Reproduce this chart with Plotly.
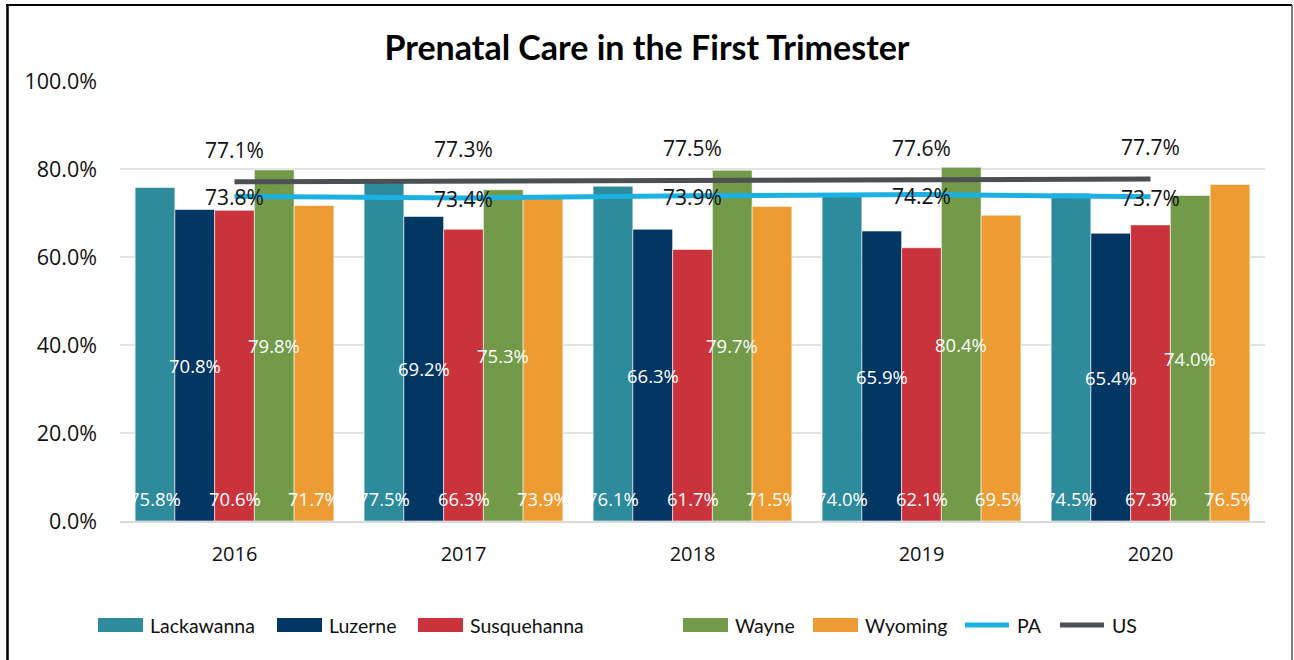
import plotly.graph_objects as go

# ---- data -------------------------------------------------------------
years = ["2016", "2017", "2018", "2019", "2020"]

lackawanna = [75.8, 77.5, 76.1, 74.0, 74.5]
luzerne = [70.8, 69.2, 66.3, 65.9, 65.4]
susquehanna = [70.6, 66.3, 61.7, 62.1, 67.3]
wayne = [79.8, 75.3, 79.7, 80.4, 74.0]
wyoming = [71.7, 73.9, 71.5, 69.5, 76.5]
pa = [73.8, 73.4, 73.9, 74.2, 73.7]
us = [77.1, 77.3, 77.5, 77.6, 77.7]

y_ticks = [0, 20, 40, 60, 80, 100]

# ---- layout geometry ----------------------------------------------------
W, H = 1294, 660
ML, MR, MT, MB = 120, 29, 81, 139
PW, PH = W - ML - MR, H - MT - MB
BARGAP = 0.132


def px_x(px):
    return (px - ML) / PW


def px_y(py):
    return (H - MB - py) / PH


LABEL_FONT = "Open Sans"
TEXT_FONT = "Lato"

county_series = [
    ("Lackawanna", lackawanna, "#2E8B9B", "base"),
    ("Luzerne", luzerne, "#033763", "middle"),
    ("Susquehanna", susquehanna, "#CB333C", "base"),
    ("Wayne", wayne, "#729A48", "middle"),
    ("Wyoming", wyoming, "#ED9B33", "base"),
]

fig = go.Figure()

for name, vals, color, _ in county_series:
    fig.add_trace(go.Bar(
        x=years, y=vals, name=name,
        marker=dict(color=color, line=dict(color="rgba(255,255,255,0.7)", width=0.8)),
        hoverinfo="x+y+name",
    ))

fig.add_trace(go.Scatter(x=years, y=pa, name="PA", mode="lines",
                         line=dict(color="#1BB2E3", width=5)))
fig.add_trace(go.Scatter(x=years, y=us, name="US", mode="lines",
                         line=dict(color="#4C5055", width=5)))

annotations = []

# bar value labels (white): either at the bar base or the bar middle
n = len(county_series)
bw = (1 - BARGAP) / n
for k, (name, vals, color, where) in enumerate(county_series):
    for i, v in enumerate(vals):
        xc = i - (1 - BARGAP) / 2 + (k + 0.5) * bw
        if where == "base":
            annotations.append(dict(x=xc, y=0, xref="x", yref="y", text=f"{v:.1f}%",
                                    showarrow=False, yshift=23, yanchor="middle",
                                    font=dict(family=LABEL_FONT, size=18.5, color="white")))
        else:
            annotations.append(dict(x=xc, y=v / 2, xref="x", yref="y", text=f"{v:.1f}%",
                                    showarrow=False, yanchor="middle",
                                    font=dict(family=LABEL_FONT, size=18.5, color="white")))

# line value labels (black)
for i, v in enumerate(us):
    annotations.append(dict(x=i, y=v, xref="x", yref="y", text=f"{v:.1f}%",
                            showarrow=False, yshift=32, yanchor="middle",
                            font=dict(family=LABEL_FONT, size=21, color="#111111")))
for i, v in enumerate(pa):
    annotations.append(dict(x=i, y=v, xref="x", yref="y", text=f"{v:.1f}%",
                            showarrow=False, yshift=-1, yanchor="middle",
                            font=dict(family=LABEL_FONT, size=21, color="#111111")))

# ---- legend row ---------------------------------------------------------
shapes = []
LEG_Y = 625
legend_items = [
    ("Lackawanna", "#2E8B9B", "bar", 98),
    ("Luzerne", "#033763", "bar", 277),
    ("Susquehanna", "#CB333C", "bar", 418),
    ("Wayne", "#729A48", "bar", 683),
    ("Wyoming", "#ED9B33", "bar", 813),
    ("PA", "#1BB2E3", "line", 963),
    ("US", "#4C5055", "line", 1058),
]
for label, color, kind, x0 in legend_items:
    if kind == "bar":
        shapes.append(dict(type="rect", xref="paper", yref="paper",
                           x0=px_x(x0), x1=px_x(x0 + 45),
                           y0=px_y(LEG_Y + 7), y1=px_y(LEG_Y - 7),
                           fillcolor=color, line=dict(width=0)))
        tx = x0 + 50
    else:
        shapes.append(dict(type="line", xref="paper", yref="paper",
                           x0=px_x(x0 + 2), x1=px_x(x0 + 46),
                           y0=px_y(LEG_Y), y1=px_y(LEG_Y),
                           line=dict(color=color, width=5)))
        tx = x0 + 52
    annotations.append(dict(x=px_x(tx), y=px_y(LEG_Y), xref="paper", yref="paper",
                            text=label, showarrow=False, xanchor="left", yanchor="middle",
                            font=dict(family=TEXT_FONT, size=19.5, color="#111111")))

# ---- outer frame --------------------------------------------------------
shapes.append(dict(type="line", xref="paper", yref="paper",
                   x0=px_x(7.5), x1=px_x(7.5), y0=px_y(4), y1=px_y(H + 10),
                   line=dict(color="black", width=2.5)))
shapes.append(dict(type="line", xref="paper", yref="paper",
                   x0=px_x(6), x1=px_x(1292), y0=px_y(5), y1=px_y(5),
                   line=dict(color="black", width=2)))
shapes.append(dict(type="line", xref="paper", yref="paper",
                   x0=px_x(1292), x1=px_x(1292), y0=px_y(5), y1=px_y(H + 10),
                   line=dict(color="#555555", width=1.5)))

fig.update_layout(
    width=W, height=H,
    margin=dict(l=ML, r=MR, t=MT, b=MB, autoexpand=False),
    paper_bgcolor="white", plot_bgcolor="white",
    barmode="group", bargap=BARGAP, bargroupgap=0,
    showlegend=False,
    title=dict(text="<b>Prenatal Care in the First Trimester</b>",
               x=0.5, xanchor="center", y=1 - 48 / H, yanchor="middle",
               font=dict(family=TEXT_FONT, size=34, color="black")),
    xaxis=dict(type="category", showgrid=False, showline=True, linecolor="#d9d9d9",
               linewidth=1.5, ticks="", ticklabelstandoff=14,
               tickfont=dict(family=LABEL_FONT, size=20, color="#111111")),
    yaxis=dict(range=[0, 100], tickvals=y_ticks, ticktext=[f"{t:.1f}%" for t in y_ticks],
               showgrid=True, gridcolor="#e3e3e3", gridwidth=1.5,
               zeroline=False, showline=False, ticks="", ticklabelstandoff=22,
               tickfont=dict(family=LABEL_FONT, size=21.5, color="#111111")),
    annotations=annotations,
    shapes=shapes,
)

fig.write_html("out.html")
